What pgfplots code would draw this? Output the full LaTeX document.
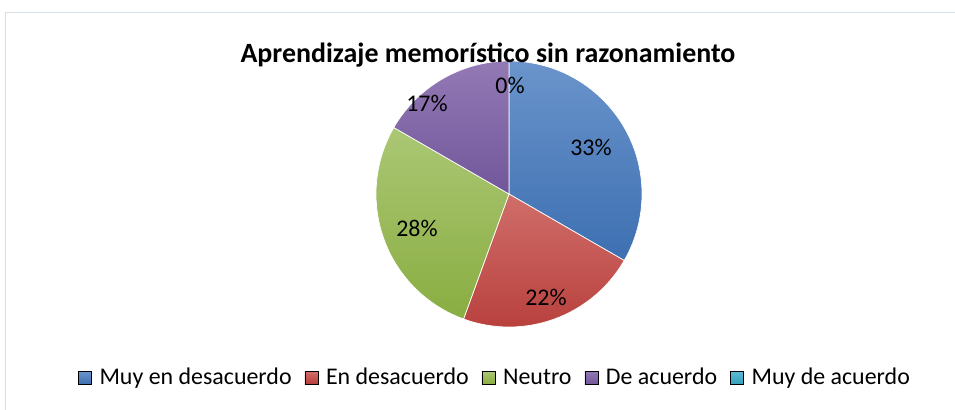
\documentclass[border=0pt]{standalone}
\usepackage{fontspec}
\setmainfont{Carlito}
\usepackage{pgfplots}
\usepackage{pgfplotstable}
\pgfplotsset{compat=1.18}

% slice colours (top / bottom of the gradient)
\definecolor{blueT}{HTML}{6A94CB}
\definecolor{blueB}{HTML}{3D6FB1}
\definecolor{redT}{HTML}{D06E6A}
\definecolor{redB}{HTML}{B63C39}
\definecolor{greenT}{HTML}{ABC774}
\definecolor{greenB}{HTML}{89AD41}
\definecolor{purpleT}{HTML}{937AB5}
\definecolor{purpleB}{HTML}{71569A}
\definecolor{aquaT}{HTML}{5DBAD2}
\definecolor{aquaB}{HTML}{34A0BC}
\definecolor{frame}{HTML}{D6DEE8}

% share of answers (%) and where Excel put each label (px)
\pgfplotstableread{
pct   lx  ly
33.33 591 147
22.22 546 297
27.78 417 228
16.67 427 103
0     510  85
}\piedata

\def\cx{509}\def\cy{194}\def\R{133bp}
\def\angA{90}
\pgfplotstablegetelem{0}{pct}\of\piedata\pgfmathsetmacro\angB{\angA-3.6*\pgfplotsretval}
\pgfplotstablegetelem{1}{pct}\of\piedata\pgfmathsetmacro\angC{\angB-3.6*\pgfplotsretval}
\pgfplotstablegetelem{2}{pct}\of\piedata\pgfmathsetmacro\angD{\angC-3.6*\pgfplotsretval}
\pgfplotstablegetelem{3}{pct}\of\piedata\pgfmathsetmacro\angE{\angD-3.6*\pgfplotsretval}

\newcommand\slice[4]{%
  \shade[top color=#3, bottom color=#4, draw=white, line width=0.7bp]
    (axis cs:\cx,\cy) -- ++(#1:\R) arc[start angle=#1, end angle=#2, radius=\R] -- cycle;}

\begin{document}
\begin{tikzpicture}
\begin{axis}[
    scale only axis,
    width=955bp, height=410bp,
    xmin=0, xmax=955, ymin=0, ymax=410,
    y dir=reverse,
    hide axis,
    legend columns=-1,
    legend style={at={(axis cs:494,380)}, anchor=center, draw=none, fill=none,
        font=\fontsize{24}{28}\selectfont, inner sep=0pt,
        nodes={inner xsep=0pt, text height=0.68em, text depth=0.22em},
        /tikz/every odd column/.append style={column sep=8bp},
        /tikz/every even column/.append style={column sep=13bp}},
    legend image code/.code={\shade[#1] (0bp,-2bp) rectangle (13bp,11bp);},
]
\path (axis cs:0,0) rectangle (axis cs:955,410);
\draw[frame, line width=1bp] (axis cs:5,410) -- (axis cs:5,12) -- (axis cs:955,12);

\slice{\angA}{\angB}{blueT}{blueB}
\slice{\angB}{\angC}{redT}{redB}
\slice{\angC}{\angD}{greenT}{greenB}
\slice{\angD}{\angE}{purpleT}{purpleB}

\pgfplotsinvokeforeach{0,...,4}{
  \pgfplotstablegetelem{#1}{lx}\of\piedata\let\lx\pgfplotsretval
  \pgfplotstablegetelem{#1}{ly}\of\piedata\let\ly\pgfplotsretval
  \pgfplotstablegetelem{#1}{pct}\of\piedata\let\pc\pgfplotsretval
  \edef\temp{\noexpand\node[font=\noexpand\fontsize{24}{29}\noexpand\selectfont]
     at (axis cs:\lx,\ly) {\noexpand\pgfmathprintnumber[fixed,precision=0,assume math mode=true]{\pc}\noexpand\%};}
  \temp
}

\node[font=\bfseries\fontsize{28}{34}\selectfont, anchor=base] at (axis cs:488,62) {Aprendizaje memorístico sin razonamiento};

\addlegendimage{top color=blueT, bottom color=blueB}
\addlegendentry{Muy en desacuerdo}
\addlegendimage{top color=redT, bottom color=redB}
\addlegendentry{En desacuerdo}
\addlegendimage{top color=greenT, bottom color=greenB}
\addlegendentry{Neutro}
\addlegendimage{top color=purpleT, bottom color=purpleB}
\addlegendentry{De acuerdo}
\addlegendimage{top color=aquaT, bottom color=aquaB}
\addlegendentry{Muy de acuerdo}
\end{axis}
\end{tikzpicture}
\end{document}
